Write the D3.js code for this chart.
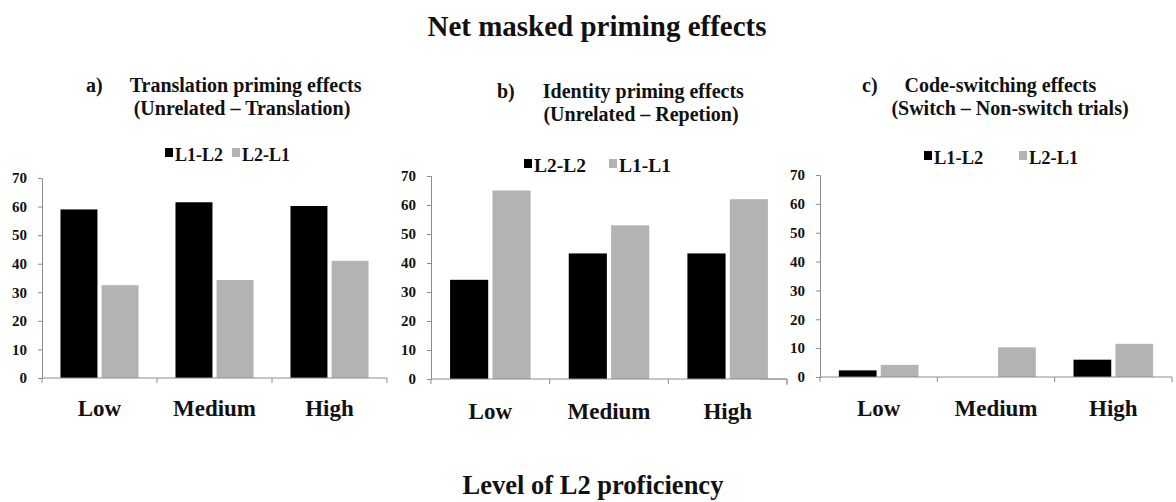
<!DOCTYPE html>
<html>
<head>
<meta charset="utf-8">
<script src="https://cdn.jsdelivr.net/npm/d3@7"></script>
<style>
  body { margin: 0; background: #fff; }
  text { font-family: "Liberation Serif", "Times New Roman", serif; font-weight: bold; fill: #111; }
</style>
</head>
<body>
<svg id="chart" width="1176" height="502"></svg>
<script>
// data
const categories = ['Low', 'Medium', 'High']
const yTicks = [0, 10, 20, 30, 40, 50, 60, 70]

const seriesA = ['L1-L2', 'L2-L1']
const translationL1L2 = [59, 61.5, 60.2]
const translationL2L1 = [32.5, 34.3, 41]

const seriesB = ['L2-L2', 'L1-L1']
const identityL2L2 = [34.2, 43.3, 43.3]
const identityL1L1 = [65, 53, 62]

const seriesC = ['L1-L2', 'L2-L1']
const switchL1L2 = [2.3, 0, 6]
const switchL2L1 = [4.2, 10.3, 11.5]

const colors = ['#000000', '#b3b3b3']

const svg = d3.select('#chart')

svg.append('text')
  .attr('x', 597).attr('y', 36)
  .attr('text-anchor', 'middle')
  .style('font-size', '29px')
  .text('Net masked priming effects')

svg.append('text')
  .attr('x', 593).attr('y', 494)
  .attr('text-anchor', 'middle')
  .style('font-size', '26.5px')
  .text('Level of L2 proficiency')

// layout of each panel (pixel frame of the plotting area)
const panels = [
  { x0: 42, x1: 387, y0: 378, y1: 178, title: ['a)', 'Translation priming effects'], sub: '(Unrelated \u2013 Translation)',
    titleX: 86, titleY: 92, gap: 27, subX: 242, subY: 115,
    series: seriesA, values: [translationL1L2, translationL2L1],
    legend: { y: 161, size: 18, items: [165, 232] }, catY: 416 },
  { x0: 431, x1: 787, y0: 379, y1: 176, title: ['b)', 'Identity priming effects'], sub: '(Unrelated \u2013 Repetion)',
    titleX: 497, titleY: 98, gap: 28, subX: 641, subY: 121,
    series: seriesB, values: [identityL2L2, identityL1L1],
    legend: { y: 172, size: 19.5, items: [524, 609] }, catY: 419 },
  { x0: 820, x1: 1172, y0: 377, y1: 175, title: ['c)', 'Code-switching effects'], sub: '(Switch \u2013 Non-switch trials)',
    titleX: 862, titleY: 92, gap: 27, subX: 1010, subY: 115,
    series: seriesC, values: [switchL1L2, switchL2L1],
    legend: { y: 164, size: 18.5, items: [924, 1019] }, catY: 416 }
]

panels.forEach(p => {
  const g = svg.append('g')

  const x = d3.scaleBand().domain(categories).range([p.x0, p.x1])
  const xs = d3.scaleBand().domain(p.series).range([0, x.bandwidth()])
    .paddingInner(0.1).paddingOuter(0.45)
  const y = d3.scaleLinear().domain([0, 70]).range([p.y0, p.y1])

  // titles
  const t = g.append('text').attr('x', p.titleX).attr('y', p.titleY).style('font-size', '20px')
  t.append('tspan').text(p.title[0])
  t.append('tspan').attr('dx', p.gap).text(p.title[1])
  g.append('text').attr('x', p.subX).attr('y', p.subY).attr('text-anchor', 'middle')
    .style('font-size', '20px').text(p.sub)

  // bars
  p.series.forEach((s, i) => {
    g.selectAll(null)
      .data(p.values[i])
      .join('rect')
      .attr('x', (d, j) => x(categories[j]) + xs(s))
      .attr('width', xs.bandwidth())
      .attr('y', d => y(d))
      .attr('height', d => y(0) - y(d))
      .attr('fill', colors[i])
  })

  // y axis
  const yAxis = g.append('g')
    .attr('transform', `translate(${p.x0},0)`)
    .call(d3.axisLeft(y).tickValues(yTicks).tickSize(4).tickPadding(11))
  yAxis.attr('font-family', null)
  yAxis.select('.domain').attr('stroke', '#8c8c8c')
  yAxis.selectAll('.tick line').attr('stroke', '#8c8c8c')
  yAxis.selectAll('.tick text')
    .style('font-family', '"Liberation Serif", serif').style('font-weight', 'bold')
    .style('font-size', '15px').attr('fill', '#111')

  // x axis: ticks on band boundaries
  const xAxis = g.append('g').attr('transform', `translate(0,${p.y0})`)
  xAxis.append('line')
    .attr('x1', p.x0).attr('x2', p.x1)
    .attr('stroke', '#8c8c8c')
  xAxis.selectAll('.b')
    .data(categories.map(c => x(c)).concat([p.x1]))
    .join('line')
    .attr('x1', d => d).attr('x2', d => d)
    .attr('y1', 0).attr('y2', 5)
    .attr('stroke', '#8c8c8c')
  g.selectAll('.cat')
    .data(categories)
    .join('text')
    .attr('x', d => x(d) + x.bandwidth() / 2)
    .attr('y', p.catY)
    .attr('text-anchor', 'middle')
    .style('font-size', '23px')
    .text(d => d)

  // legend
  p.series.forEach((s, i) => {
    const lx = p.legend.items[i]
    g.append('rect')
      .attr('x', lx).attr('y', p.legend.y - 13)
      .attr('width', 8).attr('height', 9)
      .attr('fill', colors[i])
    g.append('text')
      .attr('x', lx + 10).attr('y', p.legend.y)
      .style('font-size', p.legend.size + 'px')
      .text(s)
  })
})

// small stray frame corner left of panel c
svg.append('path')
  .attr('d', 'M760,379H787V385')
  .attr('fill', 'none')
  .attr('stroke', '#999')
</script>
</body>
</html>
